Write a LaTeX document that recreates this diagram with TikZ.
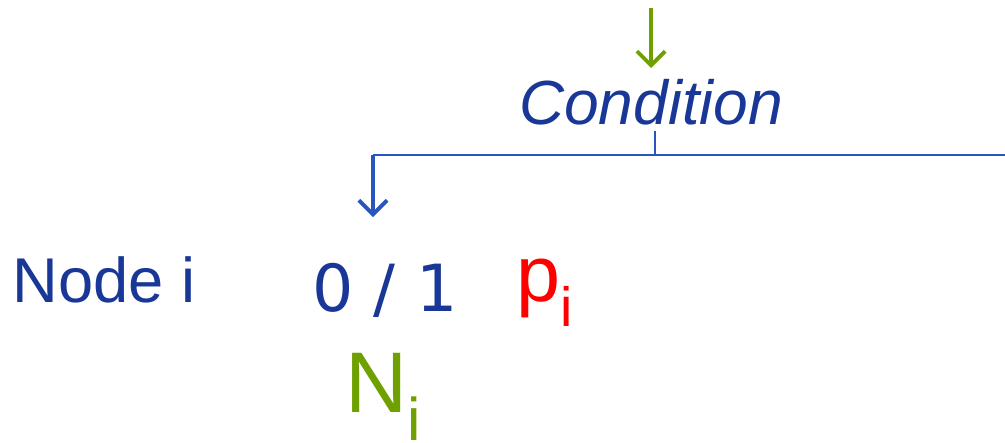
\documentclass[tikz,border=0pt]{standalone}
\usepackage{fontspec}
\setmainfont{Liberation Sans}
\newfontfamily\digitfont{DejaVu Sans}
\usetikzlibrary{arrows.meta}

\definecolor{txtblue}{RGB}{25,55,150}
\definecolor{lnblue}{RGB}{40,85,190}
\definecolor{condgreen}{RGB}{110,160,0}
\definecolor{probred}{RGB}{255,0,0}

\begin{document}
\begin{tikzpicture}[x=0.02cm, y=-0.02cm,
    lbl/.style={inner sep=0pt, anchor=base},
    arr/.style={-{Straight Barb[length=8pt, width=16pt, line width=2.2pt]}, line width=2pt},
    wire/.style={draw=lnblue, line width=1.3pt}
]
\useasboundingbox (0,0) rectangle (1005,443);

\node[lbl, text=txtblue, font=\fontsize{35.5}{40}\selectfont\itshape] (cond) at (651,124) {Condition};
\node[lbl, text=txtblue, font=\fontsize{36}{40}\selectfont, anchor=base west] (node) at (12,302) {Node i};
\node[lbl, text=txtblue, font=\fontsize{37}{40}\selectfont\digitfont] (bit) at (385,311) {0 / 1};
\node[lbl, text=probred, font=\fontsize{45}{50}\selectfont, anchor=base west] (prob) at (516,301) {p\textsubscript{i}};
\node[lbl, text=condgreen, font=\fontsize{49}{52}\selectfont, anchor=base west] (cnt) at (345,412) {N\textsubscript{\raisebox{0.08em}{i}}};

\coordinate (top) at (651,8);
\coordinate (into) at (651,68);
\coordinate (stem) at (655,131);
\coordinate (split) at (655,155);
\coordinate (left) at (373,155);
\coordinate (right) at (1005,155);
\coordinate (tip) at (373,217);

\draw[arr, draw=condgreen] (top) -- (into);
\draw[wire] (stem) -- (split);
\draw[wire] (left) -- (right);
\draw[arr, draw=lnblue] (left) -- (tip);
\end{tikzpicture}
\end{document}
